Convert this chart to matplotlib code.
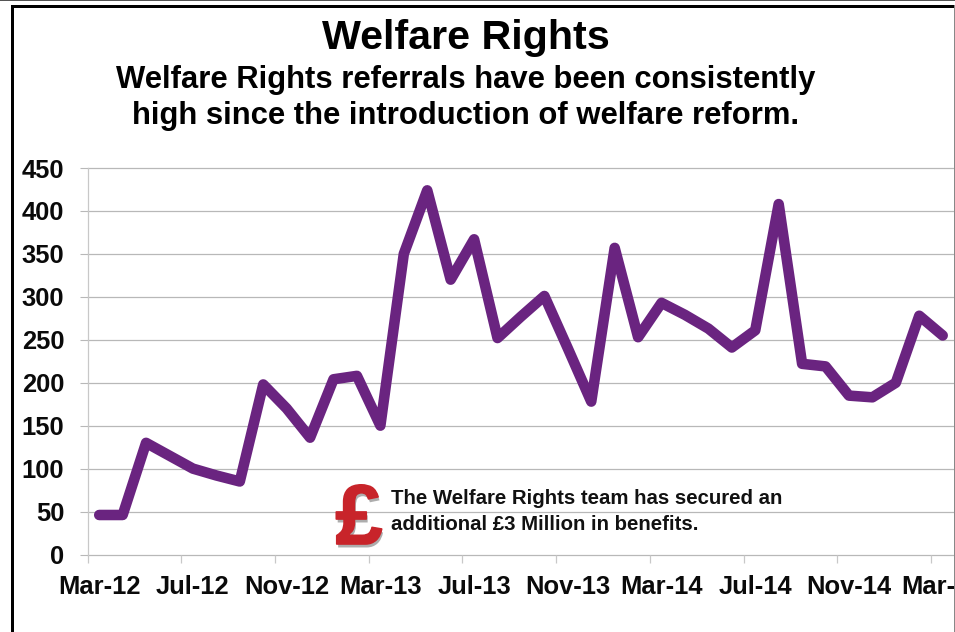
#!/usr/bin/env python3
import matplotlib
matplotlib.use('Agg')
import matplotlib.pyplot as plt
import matplotlib.patheffects as pe
from matplotlib.patches import Rectangle

W, H = 955, 632

title = 'Welfare Rights'
subtitle = ['Welfare Rights referrals have been consistently',
            'high since the introduction of welfare reform.']
note = ['The Welfare Rights team has secured an',
        'additional £3 Million in benefits.']

# monthly referrals, Mar-12 to Mar-15
referrals = [46, 46, 130, 115, 100, 92, 85, 198, 170, 136, 204, 208, 150,
             350, 424, 320, 367, 252, 277, 301, 240, 178, 357, 253, 293,
             279, 263, 241, 261, 408, 222, 219, 185, 183, 200, 278, 255]
label_every = 4
x_labels = ['Mar-12', 'Jul-12', 'Nov-12', 'Mar-13', 'Jul-13', 'Nov-13',
            'Mar-14', 'Jul-14', 'Nov-14', 'Mar-15']
y_ticks = [0, 50, 100, 150, 200, 250, 300, 350, 400, 450]

plt.rcParams['font.family'] = ['Liberation Sans', 'DejaVu Sans']
plt.rcParams['font.weight'] = 'bold'

fig = plt.figure(figsize=(W / 100, H / 100), dpi=100, facecolor='white')

# axes placed in pixels, right side runs off the image like the original
left, right, top, bottom = 87.5, 955, 168, 554.5
ax = fig.add_axes([left / W, 1 - bottom / H, (right - left) / W, (bottom - top) / H])

px_per_month = 23.43
ax.set_xlim(-0.5, -0.5 + (right - left) / px_per_month)
ax.set_ylim(0, 450)

for v in y_ticks:
    ax.axhline(v, color='#b8b8b8', lw=0.9, zorder=1, clip_on=False)

ax.plot(range(len(referrals)), referrals, color='#6a2480', lw=7.6,
        solid_joinstyle='round', solid_capstyle='round', zorder=3, clip_on=False)

for s in ['top', 'right', 'bottom']:
    ax.spines[s].set_visible(False)
ax.spines['left'].set_color('#c8c8c8')
ax.spines['left'].set_linewidth(0.9)

ax.set_yticks(y_ticks)
ax.set_yticklabels([str(v) for v in y_ticks], fontsize=18.4, fontweight='bold', color='#0a0a0a')
ax.tick_params(axis='y', length=5.8, width=0.8, color='#b8b8b8', pad=11)

# ticks sit between categories, labels are centred on the month
edges = [i * label_every - 0.5 for i in range(len(x_labels))]
ax.set_xticks(edges)
ax.set_xticklabels([])
ax.tick_params(axis='x', length=6, width=0.9, color='#c8c8c8')
for i, lab in enumerate(x_labels):
    ax.annotate(lab, (i * label_every, 0), xytext=(0, -28.5), textcoords='offset points',
                ha='center', va='baseline', fontsize=18.4, fontweight='bold',
                color='#0a0a0a', annotation_clip=False)

fig.text(466 / W, 1 - 38 / H, title, ha='center', va='center', fontsize=29.7, color='black')
fig.text(466 / W, 1 - 80 / H, subtitle[0], ha='center', va='center', fontsize=22.3, color='black')
fig.text(466 / W, 1 - 116 / H, subtitle[1], ha='center', va='center', fontsize=22.3, color='black')

# the pound sign picture
fig.text(359 / W, 1 - 522 / H, '£', ha='center', va='center', fontsize=61, color='#c8242a',
         fontweight='bold',
         path_effects=[pe.withSimplePatchShadow(offset=(1, -2.5), shadow_rgbFace='#777777', alpha=0.6),
                       pe.withStroke(linewidth=1.2, foreground='#c8242a')])

fig.text(391 / W, 1 - 499 / H, note[0], ha='left', va='center', fontsize=14.7, color='#111111')
fig.text(391 / W, 1 - 524.5 / H, note[1], ha='left', va='center', fontsize=14.7, color='#111111')

# frame of the slide
fig.add_artist(Rectangle((0, 1 - 1 / H), 1, 1 / H, transform=fig.transFigure, color='#555555', lw=0))
fig.add_artist(Rectangle((11 / W, 0), 2.5 / W, 1 - 5 / H, transform=fig.transFigure, color='black', lw=0))
fig.add_artist(Rectangle((11 / W, 1 - 7.5 / H), 1 - 11 / W, 2.5 / H, transform=fig.transFigure, color='black', lw=0))
fig.add_artist(Rectangle((954 / W, 0), 1 / W, 1 - 5 / H, transform=fig.transFigure, color='#888888', lw=0))

fig.savefig('out.png', dpi=100)
